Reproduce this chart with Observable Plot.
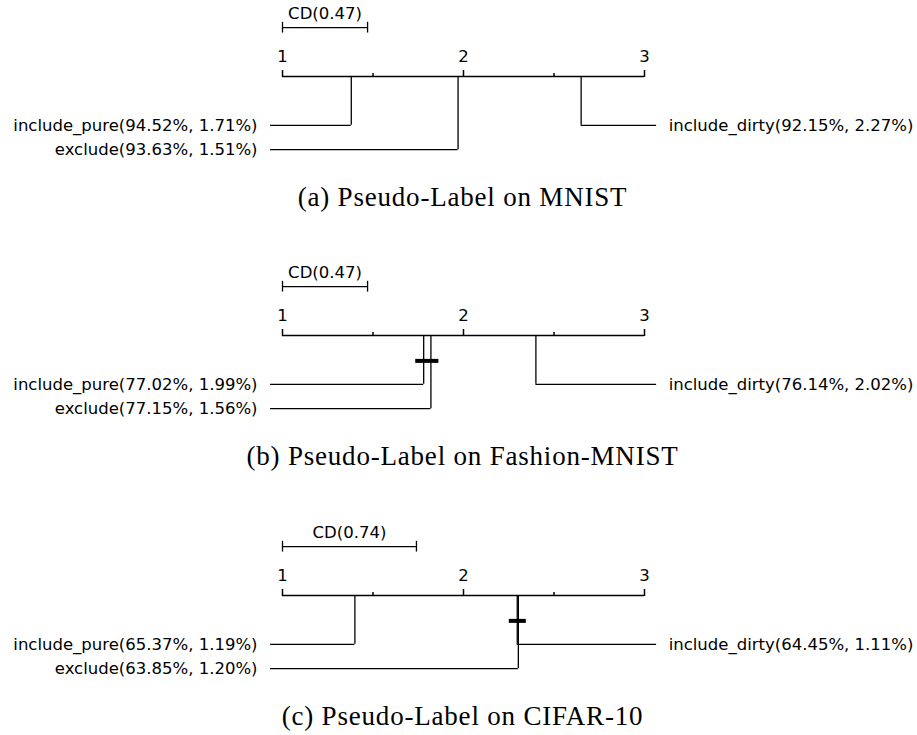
<!DOCTYPE html>
<html><head><meta charset="utf-8">
<script src="https://cdn.jsdelivr.net/npm/d3@7"></script>
<script src="https://cdn.jsdelivr.net/npm/@observablehq/plot@0.6"></script>
<style>
html,body{margin:0;padding:0;background:#fff;}
body{width:917px;height:735px;position:relative;overflow:hidden;}
.panel{position:absolute;left:0;width:917px;height:259px;}
.caption{position:absolute;left:462.5px;transform:translate(-50%,-50%);font-family:"Liberation Serif",serif;font-size:27px;letter-spacing:0.8px;white-space:nowrap;color:#000;line-height:1;}
</style></head><body>
<div id="root"></div>
<script>
// ---- data ----
const methods = ["include_pure", "exclude", "include_dirty"];
const captions = ["(a) Pseudo-Label on MNIST", "(b) Pseudo-Label on Fashion-MNIST", "(c) Pseudo-Label on CIFAR-10"];
const cdValues = [0.47, 0.47, 0.74];
const ranksA = [1.38, 1.97, 2.65];
const ranksB = [1.78, 1.82, 2.40];
const ranksC = [1.40, 2.303, 2.297];
const accA = ["94.52", "93.63", "92.15"];
const stdA = ["1.71", "1.51", "2.27"];
const accB = ["77.02", "77.15", "76.14"];
const stdB = ["1.99", "1.56", "2.02"];
const accC = ["65.37", "63.85", "64.45"];
const stdC = ["1.19", "1.20", "1.11"];
const sides = ["left", "left", "right"];
const cliquesA = [];
const cliquesB = [["include_pure", "exclude"]];
const cliquesC = [["exclude", "include_dirty"]];
const rankTicks = [1, 2, 3];
const rankMinorTicks = [1.5, 2.5];
const tickLabels = ["1", "2", "3"];

// ---- layout constants (not data) ----
const CD_ROW = -2, CLIQUE_ROW = 1.04, FIRST_LABEL_ROW = 2;
const LEFT_END = 0.934, RIGHT_END = 3.067, CLIQUE_PAD = 0.044;
const panelTops = [0, 259, 519];

const panels = [
  {ranks: ranksA, acc: accA, std: stdA, cliques: cliquesA},
  {ranks: ranksB, acc: accB, std: stdB, cliques: cliquesB},
  {ranks: ranksC, acc: accC, std: stdC, cliques: cliquesC}
];

const root = document.getElementById("root");
panels.forEach((p, pi) => {
  const counters = {left: 0, right: 0};
  const rows = methods.map((m, i) => {
    const side = sides[i];
    const row = FIRST_LABEL_ROW + counters[side];
    counters[side] += 1;
    return {
      name: m, rank: p.ranks[i], side, row,
      end: side === "left" ? LEFT_END : RIGHT_END,
      label: `${m}(${p.acc[i]}%, ${p.std[i]}%)`
    };
  });
  const byName = Object.fromEntries(rows.map(r => [r.name, r]));
  const cliqueData = p.cliques.map(c => {
    const rs = c.map(n => byName[n].rank);
    return {x1: d3.min(rs) - CLIQUE_PAD, x2: d3.max(rs) + CLIQUE_PAD};
  });
  const cd = cdValues[pi];
  const cdData = [{x1: rankTicks[0], x2: rankTicks[0] + cd, label: `CD(${cd})`}];
  const ext = d3.extent(rankTicks);

  const chart = Plot.plot({
    width: 917,
    height: 175,
    marginLeft: 282,
    marginRight: 273,
    marginTop: 76,
    marginBottom: 26,
    x: {domain: ext, range: [282, 644], axis: null},
    y: {domain: [0, 3], range: [76, 149.2], axis: null},
    style: {fontFamily: "DejaVu Sans", fontSize: "16.5px", color: "#000", background: "#fff", overflow: "visible"},
    marks: [
      // CD bar
      Plot.ruleY(cdData, {x1: "x1", x2: "x2", y: () => CD_ROW, stroke: "#000", strokeWidth: 1.3}),
      Plot.ruleX(cdData.flatMap(d => [d.x1, d.x2]), {x: d => d, y1: CD_ROW - 0.22, y2: CD_ROW + 0.22, stroke: "#000", strokeWidth: 1.3}),
      Plot.text(cdData, {x: d => (d.x1 + d.x2) / 2, y: () => CD_ROW, text: "label", dy: -14, fill: "#000"}),
      // rank axis
      Plot.ruleY([ext], {x1: d => d[0], x2: d => d[1], y: () => 0, stroke: "#000", strokeWidth: 1.5}),
      Plot.axisX(rankTicks, {anchor: "top", tickSize: 7, tickPadding: 8, strokeWidth: 1.5, tickFormat: (d) => tickLabels[rankTicks.indexOf(d)], label: null}),
      Plot.axisX(rankMinorTicks, {anchor: "top", tickSize: 4, strokeWidth: 1.5, tickFormat: () => "", label: null}),
      // method connectors
      Plot.ruleX(rows, {x: "rank", y1: () => 0, y2: "row", stroke: "#000", strokeWidth: 1.3}),
      Plot.ruleY(rows, {y: "row", x1: "rank", x2: "end", stroke: "#000", strokeWidth: 1.3}),
      Plot.text(rows.filter(r => r.side === "left"), {x: "end", y: "row", text: "label", textAnchor: "end", dx: -13, fill: "#000"}),
      Plot.text(rows.filter(r => r.side === "right"), {x: "end", y: "row", text: "label", textAnchor: "start", dx: 12, fill: "#000"}),
      // cliques
      Plot.ruleY(cliqueData, {x1: "x1", x2: "x2", y: () => CLIQUE_ROW, stroke: "#000", strokeWidth: 4})
    ]
  });
  const div = document.createElement("div");
  div.className = "panel";
  div.style.top = panelTops[pi] + "px";
  div.appendChild(chart);
  const cap = document.createElement("div");
  cap.className = "caption";
  cap.style.top = "197px";
  cap.textContent = captions[pi];
  div.appendChild(cap);
  root.appendChild(div);
});
</script>
</body></html>
